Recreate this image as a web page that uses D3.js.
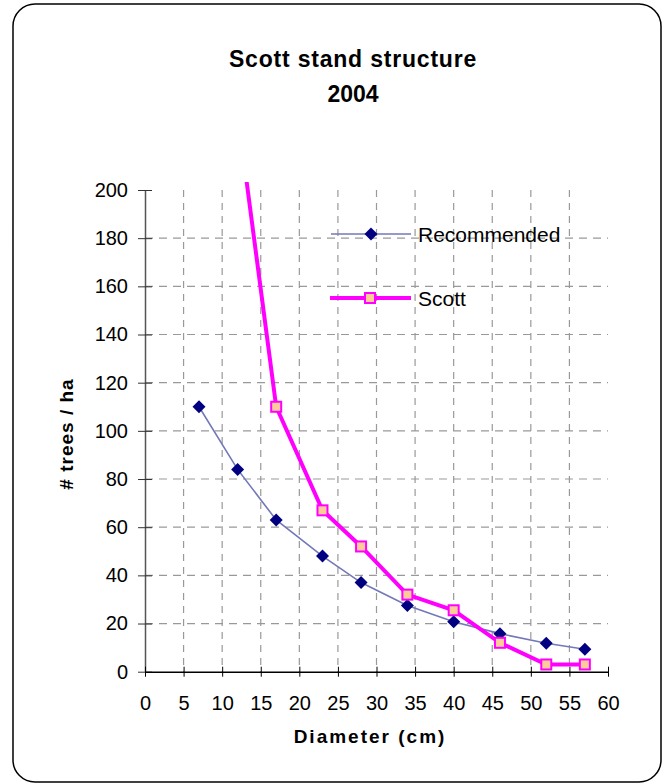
<!DOCTYPE html>
<html>
<head>
<meta charset="utf-8">
<script src="https://cdn.jsdelivr.net/npm/d3@7"></script>
<style>
  body { margin: 0; background: #fff; }
  text { font-family: "Liberation Sans", Arial, sans-serif; fill: #000; }
</style>
</head>
<body>
<svg id="chart" width="668" height="784"></svg>
<script>
// data
const diameters = [7, 12, 17, 23, 28, 34, 40, 46, 52, 57];
const recommended = [110, 84, 63, 48, 37, 27.5, 20.7, 15.8, 11.8, 9.3];
const scottDiameters = [12, 17, 23, 28, 34, 40, 46, 52, 57];
const scott = [232, 110, 67, 52, 32, 25.5, 12, 3, 3];
const xTicks = [0, 5, 10, 15, 20, 25, 30, 35, 40, 45, 50, 55, 60];
const yTicks = [0, 20, 40, 60, 80, 100, 120, 140, 160, 180, 200];

const svg = d3.select("#chart");

// outer rounded frame
svg.append("rect")
    .attr("x", 13).attr("y", 4)
    .attr("width", 648).attr("height", 778)
    .attr("rx", 22).attr("ry", 22)
    .attr("fill", "#fff")
    .attr("stroke", "#000")
    .attr("stroke-width", 1.5);

// title
svg.append("text")
    .attr("x", 353).attr("y", 67)
    .attr("text-anchor", "middle")
    .style("font-size", "23px").style("font-weight", "bold")
    .style("letter-spacing", "0.8px")
    .text("Scott stand structure");
svg.append("text")
    .attr("x", 353).attr("y", 102)
    .attr("text-anchor", "middle")
    .style("font-size", "23px").style("font-weight", "bold")
    .text("2004");

const x = d3.scaleLinear().domain([0, 60]).range([145, 608]);
const y = d3.scaleLinear().domain([0, 200]).range([671.7, 190]);

// gridlines
svg.append("g").selectAll("line")
    .data(yTicks.filter(d => d > 0 && d < 200))
    .enter().append("line")
    .attr("x1", x(0)).attr("x2", x(60))
    .attr("y1", d => y(d)).attr("y2", d => y(d))
    .attr("stroke", "#999").attr("stroke-width", 1.2)
    .attr("stroke-dasharray", "8,6");

svg.append("g").selectAll("line")
    .data(xTicks.filter(d => d > 0 && d < 60))
    .enter().append("line")
    .attr("x1", d => x(d)).attr("x2", d => x(d))
    .attr("y1", y(200)).attr("y2", y(0))
    .attr("stroke", "#999").attr("stroke-width", 1.2)
    .attr("stroke-dasharray", "7,6");

// Y axis
const yAxis = svg.append("g")
    .attr("transform", `translate(${x(0)},0)`)
    .call(d3.axisLeft(y).tickValues(yTicks).tickSizeInner(7).tickSizeOuter(0).tickPadding(10));
yAxis.select(".domain").attr("stroke", "#555").attr("stroke-width", 1.5);
yAxis.selectAll(".tick line").attr("x2", 7).attr("x1", -7).attr("stroke", "#333");
yAxis.selectAll(".tick text").style("font-size", "20px")
    .style("font-family", "Liberation Sans, Arial, sans-serif").attr("fill", "#000")
    .attr("x", -17);

// X axis
const xAxis = svg.append("g")
    .attr("transform", `translate(0,${y(0)})`)
    .call(d3.axisBottom(x).tickValues(xTicks).tickSizeInner(5).tickSizeOuter(0).tickPadding(19));
xAxis.select(".domain").attr("stroke", "#000").attr("stroke-width", 1.5);
xAxis.selectAll(".tick line").attr("y1", -5).attr("y2", 5).attr("stroke", "#000");
xAxis.selectAll(".tick text").style("font-size", "20px")
    .style("font-family", "Liberation Sans, Arial, sans-serif").attr("fill", "#000");

// axis titles
svg.append("text")
    .attr("x", 370).attr("y", 743)
    .attr("text-anchor", "middle")
    .style("font-size", "19px").style("font-weight", "bold")
    .style("letter-spacing", "2px")
    .text("Diameter (cm)");
svg.append("text")
    .attr("transform", `translate(73,434) rotate(-90)`)
    .attr("text-anchor", "middle")
    .style("font-size", "19px").style("font-weight", "bold")
    .style("letter-spacing", "1px")
    .text("# trees / ha");

// clip for series
svg.append("clipPath").attr("id", "plot")
    .append("rect")
    .attr("x", x(0)).attr("y", 182)
    .attr("width", x(60) - x(0) + 10).attr("height", y(0) - 182 + 10);

const line = d3.line().x(d => x(d[0])).y(d => y(d[1]));
const recData = diameters.map((d, i) => [d, recommended[i]]);
const scottData = scottDiameters.map((d, i) => [d, scott[i]]);

const diamond = "M0,-6.5L6.5,0L0,6.5L-6.5,0Z";

// Recommended series
svg.append("path")
    .datum(recData)
    .attr("clip-path", "url(#plot)")
    .attr("d", line)
    .attr("fill", "none")
    .attr("stroke", "#7379b8")
    .attr("stroke-width", 1.6);

// Scott series
svg.append("path")
    .datum(scottData)
    .attr("clip-path", "url(#plot)")
    .attr("d", line)
    .attr("fill", "none")
    .attr("stroke", "#ff00ff")
    .attr("stroke-width", 4);

svg.append("g").selectAll("path")
    .data(recData)
    .enter().append("path")
    .attr("transform", d => `translate(${x(d[0])},${y(d[1])})`)
    .attr("d", diamond)
    .attr("fill", "#000080");

svg.append("g").selectAll("rect")
    .data(scottData.filter(d => d[1] <= 200))
    .enter().append("rect")
    .attr("x", d => x(d[0]) - 5).attr("y", d => y(d[1]) - 5)
    .attr("width", 10).attr("height", 10)
    .attr("fill", "#ffcc99")
    .attr("stroke", "#ff00ff")
    .attr("stroke-width", 2);

// legend
const legend = svg.append("g");
legend.append("line")
    .attr("x1", 331).attr("x2", 411).attr("y1", 234).attr("y2", 234)
    .attr("stroke", "#7379b8").attr("stroke-width", 1.6);
legend.append("path")
    .attr("transform", "translate(371,234)")
    .attr("d", diamond).attr("fill", "#000080");
legend.append("text")
    .attr("x", 418).attr("y", 241.5)
    .style("font-size", "21px")
    .text("Recommended");

legend.append("line")
    .attr("x1", 330).attr("x2", 411).attr("y1", 298).attr("y2", 298)
    .attr("stroke", "#ff00ff").attr("stroke-width", 4);
legend.append("rect")
    .attr("x", 365).attr("y", 293).attr("width", 10).attr("height", 10)
    .attr("fill", "#ffcc99").attr("stroke", "#ff00ff").attr("stroke-width", 2);
legend.append("text")
    .attr("x", 418).attr("y", 305.5)
    .style("font-size", "21px")
    .text("Scott");
</script>
</body>
</html>
